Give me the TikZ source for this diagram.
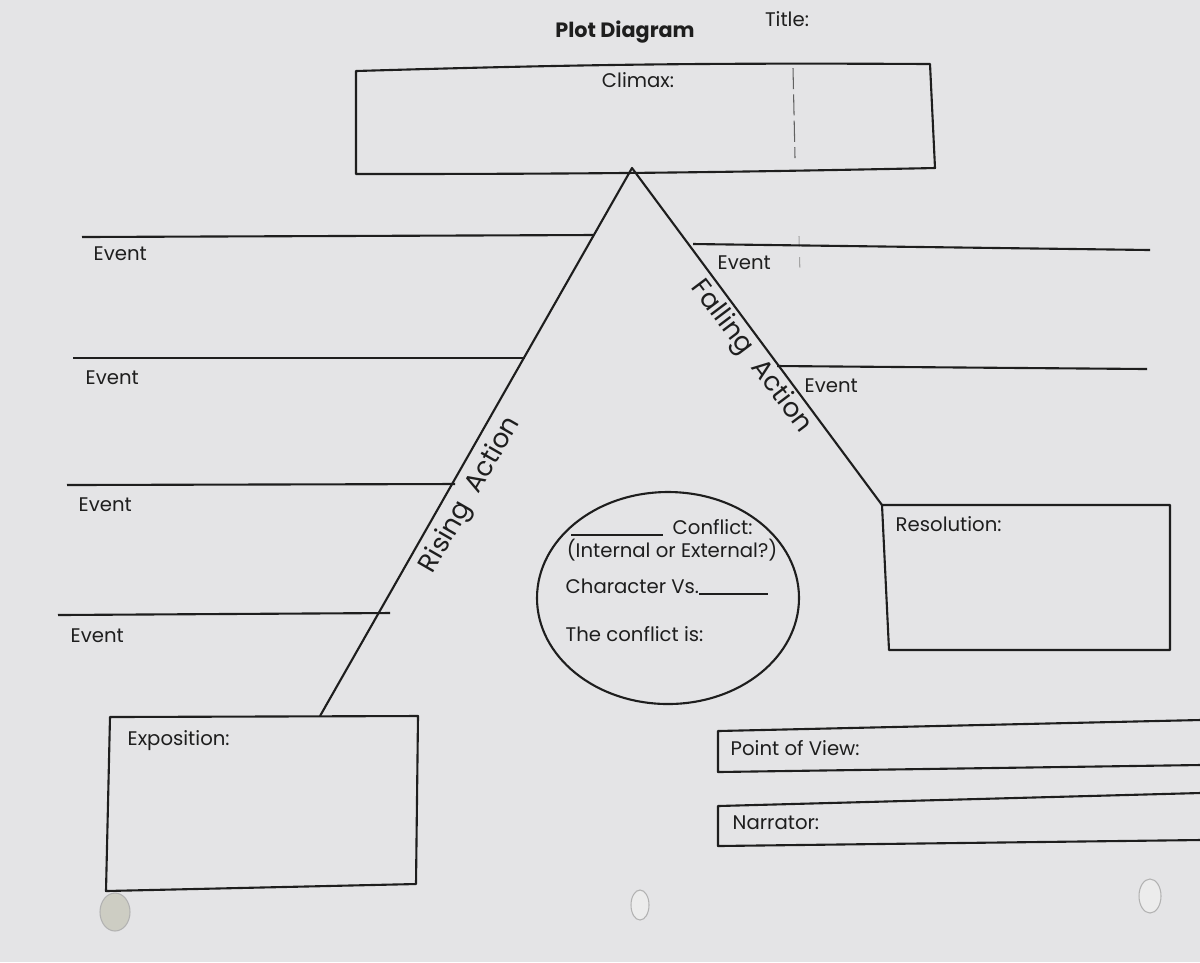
\documentclass[tikz,border=0pt]{standalone}
\usepackage{fontspec}
\setmainfont{Poppins}
\definecolor{paper}{RGB}{228,228,230}
\definecolor{ink}{RGB}{30,30,30}
\definecolor{holefill}{RGB}{205,205,195}
\begin{document}
\begin{tikzpicture}[x=0.1mm,y=-0.1mm,
  outline/.style={draw=ink,line width=0.6pt,line join=round},
  lbl/.style={inner sep=0pt,text=ink,font=\fontsize{5.6}{6.5}\selectfont},
  hand/.style={inner sep=0pt,text=ink,font=\fontsize{7.5}{8}\selectfont},
  hole/.style={fill=holefill,draw=gray!60,line width=0.3pt}]
\fill[paper] (0,0) rectangle (1200,962);
\useasboundingbox (0,0) rectangle (1200,962);

% title
\node[lbl,font=\fontsize{5.9}{7}\selectfont\bfseries] (title) at (625,32) {Plot Diagram};
\node[lbl] (titlelbl) at (787,19) {Title:};

% climax box
\coordinate (c1) at (356,71);
\coordinate (c2) at (930,64);
\coordinate (c3) at (935,168);
\coordinate (c4) at (356,174);
\draw[outline] (c1) to[bend left=1] (c2) -- (c3) to[bend left=0.6] (c4) -- cycle;
\node[lbl] (climax) at (638,80) {Climax:};
\draw[draw=ink!70,line width=0.3pt,dash pattern=on 6pt off 1.5pt] (793,68) -- (795,158);
\draw[draw=ink!40,line width=0.3pt,dash pattern=on 3pt off 3pt] (799,236) -- (800,276);

% triangle
\coordinate (apex) at (632,168);
\coordinate (lbase) at (320,716);
\coordinate (rbase) at (882,505);
\draw[outline] (lbase) -- (apex) -- (rbase);

% left event lines
\coordinate (le1a) at (82,237);  \coordinate (le1b) at (593,235);
\coordinate (le2a) at (73,358);  \coordinate (le2b) at (525,358);
\coordinate (le3a) at (67,485);  \coordinate (le3b) at (455,484);
\coordinate (le4a) at (58,615);  \coordinate (le4b) at (390,613);
\draw[outline] (le1a) -- (le1b);
\draw[outline] (le2a) -- (le2b);
\draw[outline] (le3a) -- (le3b);
\draw[outline] (le4a) -- (le4b);
\node[lbl,anchor=west] (ev1) at (93,254) {Event};
\node[lbl,anchor=west] (ev2) at (85,378) {Event};
\node[lbl,anchor=west] (ev3) at (78,505) {Event};
\node[lbl,anchor=west] (ev4) at (70,636) {Event};

% right event lines
\coordinate (re1a) at (693,244); \coordinate (re1b) at (1150,250);
\coordinate (re2a) at (777,366); \coordinate (re2b) at (1147,369);
\draw[outline] (re1a) -- (re1b);
\draw[outline] (re2a) -- (re2b);
\node[lbl,anchor=west] (ev5) at (717,263) {Event};
\node[lbl,anchor=west] (ev6) at (804,386) {Event};

% handwritten labels
\node[hand,rotate=60] (rising) at (471,495) {Rising\ \ Action};
\node[hand,rotate=-53] (falling) at (751,357) {Falling\ \ Action};

% resolution box
\draw[outline] (882,505) -- (1170,505) -- (1170,650) -- (889,650) -- cycle;
\node[lbl,anchor=west] (resolution) at (895,524) {Resolution:};

% conflict circle
\draw[outline] (668,598) ellipse [x radius=131, y radius=106];
\draw[ink,line width=0.5pt] (571,535) -- (663,535);
\node[lbl,anchor=west] (conflict) at (672,527) {Conflict:};
\node[lbl] (intext) at (672,550) {(Internal or External?)};
\node[lbl,anchor=west] (charvs) at (565,586) {Character Vs.};
\draw[ink,line width=0.5pt] (699,594) -- (768,594);
\node[lbl,anchor=west] (cis) at (565,634) {The conflict is:};

% exposition box
\draw[outline] (110,717) -- (418,716) -- (416,884) -- (106,891) -- cycle;
\node[lbl,anchor=west] (exposition) at (127,741) {Exposition:};

% point of view / narrator
\draw[outline] (1200,720) -- (718,731) -- (718,772) -- (1200,765);
\node[lbl,anchor=west] (pov) at (730,748) {Point of View:};
\draw[outline] (1200,793) -- (718,806) -- (718,846) -- (1200,840);
\node[lbl,anchor=west] (narrator) at (732,823) {Narrator:};

% punch holes
\draw[hole] (115,912) ellipse [x radius=15, y radius=19];
\draw[hole,fill=white!85!gray] (640,905) ellipse [x radius=9, y radius=15];
\draw[hole,fill=white!85!gray] (1150,896) ellipse [x radius=11, y radius=17];
\end{tikzpicture}
\end{document}
